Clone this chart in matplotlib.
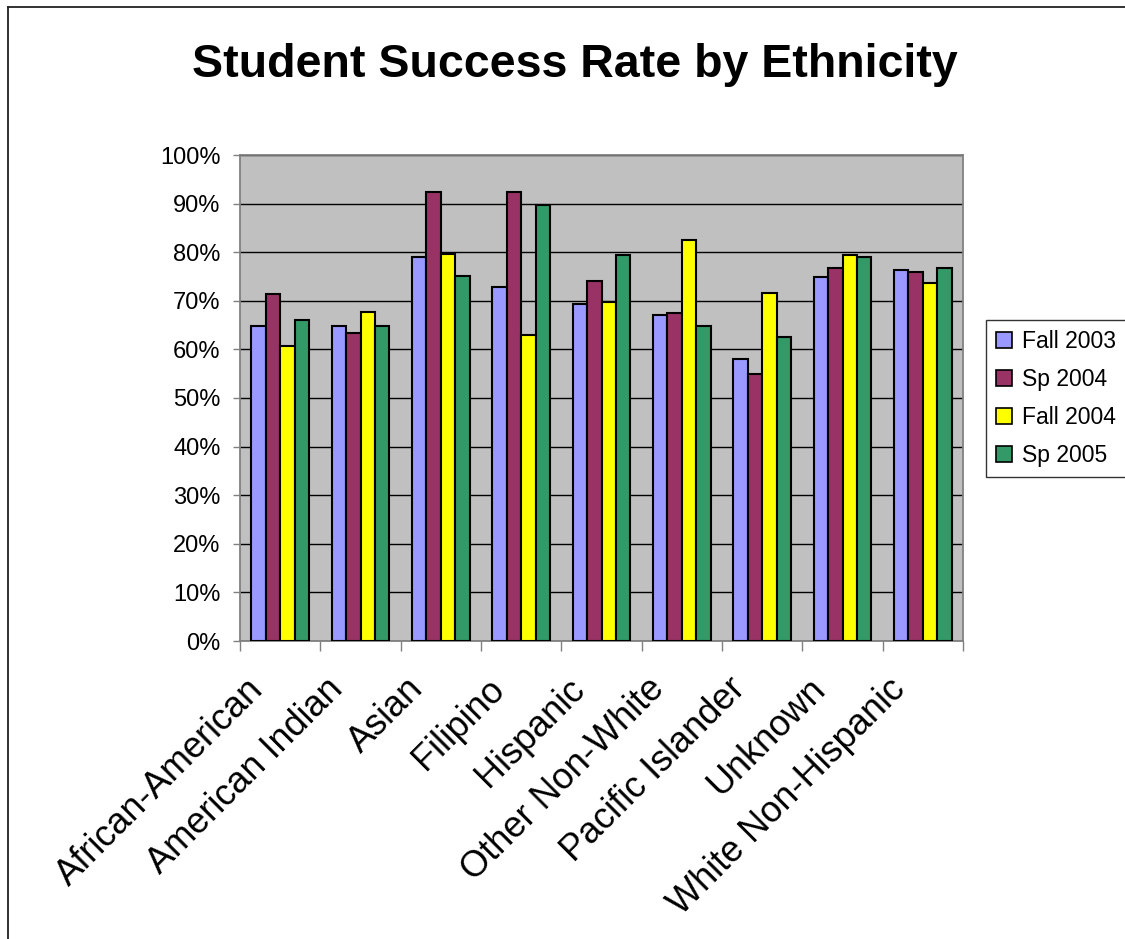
import matplotlib
matplotlib.use("Agg")
import matplotlib.pyplot as plt
import matplotlib.transforms as mtransforms
from matplotlib.lines import Line2D
from matplotlib.ticker import FixedLocator, PercentFormatter
import numpy as np

plt.rcParams['font.family'] = ['Liberation Sans', 'DejaVu Sans']

categories = ["African-American", "American Indian", "Asian", "Filipino",
              "Hispanic", "Other Non-White", "Pacific Islander", "Unknown",
              "White Non-Hispanic"]
terms = ["Fall 2003", "Sp 2004", "Fall 2004", "Sp 2005"]
fall_2003 = [64.9, 64.9, 79.0, 72.9, 69.4, 67.1, 58.0, 74.8, 76.3]
sp_2004 = [71.3, 63.4, 92.4, 92.4, 74.0, 67.5, 54.9, 76.7, 75.9]
fall_2004 = [60.6, 67.6, 79.7, 63.0, 69.8, 82.5, 71.7, 79.4, 73.7]
sp_2005 = [66.0, 64.9, 75.2, 89.7, 79.4, 64.8, 62.6, 79.0, 76.7]
series = [fall_2003, sp_2004, fall_2004, sp_2005]
colors = ["#9999FF", "#993366", "#FFFF00", "#339966"]
y_ticks = list(range(0, 101, 10))

W, H = 1125, 939
fig = plt.figure(figsize=(W / 100, H / 100), dpi=100)
fig.patch.set_facecolor("white")

ax = fig.add_axes([240 / W, 1 - 641 / H, (963 - 240) / W, (641 - 155) / H])
ax.set_facecolor("#C0C0C0")

x = np.arange(len(categories))
bw = 0.18
for k, (vals, col, name) in enumerate(zip(series, colors, terms)):
    ax.bar(x + (k - 1.5) * bw, vals, width=bw, color=col, edgecolor="black",
           linewidth=1.5, label=name, zorder=3)

ax.set_xlim(-0.5, len(categories) - 0.5)
ax.set_ylim(0, 100)

# y axis
ax.set_yticks(y_ticks)
ax.yaxis.set_major_formatter(PercentFormatter(decimals=0))
ax.tick_params(axis="y", direction="out", length=5, width=1.0, color="#808080",
               pad=9, labelsize=17, labelcolor="black")
ax.yaxis.grid(True, color="black", linewidth=1.0, zorder=1)
ax.set_axisbelow(True)

# x axis: boundary ticks, labels at centres
ax.xaxis.set_major_locator(FixedLocator(np.arange(-0.5, len(categories), 1.0)))
ax.xaxis.set_minor_locator(FixedLocator(x))
ax.tick_params(axis="x", which="major", direction="out", length=7.5, width=1.0,
               color="#808080", labelbottom=False)
ax.tick_params(axis="x", which="minor", length=0, pad=22)
ax.set_xticklabels(categories, minor=True, rotation=45, ha="right",
                   fontsize=26, rotation_mode="default")
shift = mtransforms.ScaledTranslation(-10 / 100, 0, fig.dpi_scale_trans)
for lbl in ax.get_xticklabels(minor=True):
    lbl.set_transform(lbl.get_transform() + shift)

for side in ["left", "right", "top", "bottom"]:
    ax.spines[side].set_color("#808080")
    ax.spines[side].set_linewidth(1.3)

fig.text(0.5107, 1 - 77 / H, "Student Success Rate by Ethnicity",
         ha="center", va="baseline", fontsize=33.5, fontweight="bold")

leg = fig.legend(loc="center left", bbox_to_anchor=(986 / W, 1 - 398.5 / H),
                 fontsize=16.5, frameon=True, fancybox=False, edgecolor="black",
                 handlelength=0.7, handleheight=0.7, handletextpad=0.4,
                 labelspacing=0.65, borderpad=0.45, borderaxespad=0.0)
leg.get_frame().set_linewidth(1.0)
for h in leg.legend_handles:
    h.set_linewidth(1.2)

# outer chart frame
fig.add_artist(Line2D([8 / W, 8 / W], [0, 1 - 7 / H], transform=fig.transFigure,
                      color="#222222", linewidth=1.3))
fig.add_artist(Line2D([8 / W, 1], [1 - 7 / H, 1 - 7 / H], transform=fig.transFigure,
                      color="#222222", linewidth=1.3))

fig.savefig("out.png", dpi=100)
